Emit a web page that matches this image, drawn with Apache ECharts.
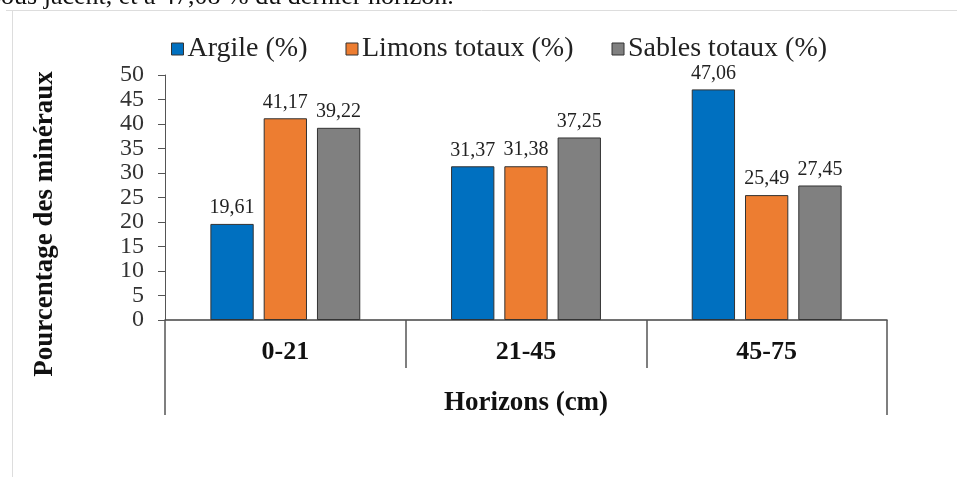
<!DOCTYPE html>
<html><head><meta charset="utf-8">
<script src="https://cdn.jsdelivr.net/npm/echarts@6/dist/echarts.min.js"></script>
<style>html,body{margin:0;padding:0;background:#fff}#c{width:957px;height:477px}</style>
</head><body><div id="c"></div>
<script>
const categories = ['0-21', '21-45', '45-75'];
const argile = [19.61, 31.37, 47.06];
const limons = [41.17, 31.38, 25.49];
const sables = [39.22, 37.25, 27.45];
const seriesNames = ['Argile (%)', 'Limons totaux (%)', 'Sables totaux (%)'];
const yTicks = [0, 5, 10, 15, 20, 25, 30, 35, 40, 45, 50];

const F = '"Liberation Serif","Times New Roman",serif';
const chart = echarts.init(document.getElementById('c'), null, {renderer: 'canvas'});
const lbl = {show: true, position: 'top', distance: 6, fontFamily: F, fontSize: 20, color: '#222',
  formatter: p => p.value.toFixed(2).replace('.', ',')};
function bar(name, data, color) {
  return {name, type: 'bar', data, barWidth: '18%', barGap: '23%',
    itemStyle: {color, borderColor: '#333', borderWidth: 1}, label: lbl};
}
chart.setOption({
  animation: false,
  textStyle: {fontFamily: F},
  legend: {left: 166, top: 30, itemWidth: 12, itemHeight: 12, itemGap: 38,
    icon: 'rect', textStyle: {fontFamily: F, fontSize: 28, color: '#222', padding: [0, 0, 0, -1]},
    itemStyle: {borderColor: '#333', borderWidth: 1}},
  grid: {left: 165, right: 70, top: 75, bottom: 157},
  xAxis: [{type: 'category', data: categories,
    axisLine: {lineStyle: {color: '#444', width: 1.5}},
    axisTick: {show: true, length: 48, interval: 0, lineStyle: {color: '#555', width: 1.5}},
    axisLabel: {fontFamily: F, fontSize: 26, fontWeight: 'bold', color: '#111', margin: 19},
    name: 'Horizons (cm)', nameLocation: 'middle', nameGap: 70,
    nameTextStyle: {fontFamily: F, fontSize: 27, fontWeight: 'bold', color: '#111'}},
   {type: 'category', data: [''], position: 'bottom',
    axisLine: {show: false},
    axisTick: {show: true, length: 95, lineStyle: {color: '#555', width: 1.5}},
    axisLabel: {show: false}}],
  yAxis: {type: 'value', min: yTicks[0], max: yTicks[yTicks.length - 1], interval: 5,
    splitLine: {show: false},
    axisLine: {show: true, lineStyle: {color: '#555', width: 1}},
    axisTick: {show: true, length: 7, lineStyle: {color: '#555'}},
    axisLabel: {fontFamily: F, fontSize: 24, color: '#333', margin: 21,
      showMinLabel: true, showMaxLabel: true, hideOverlap: false}},
  graphic: [
    {type: 'line', shape: {x1: 6, y1: 10.5, x2: 957, y2: 10.5}, style: {stroke: '#ddd', lineWidth: 1}},
    {type: 'line', shape: {x1: 12.5, y1: 10, x2: 12.5, y2: 477}, style: {stroke: '#ddd', lineWidth: 1}},
    {type: 'text', left: -9, top: -16, style: {text: 'sous jacent, et à 47,08 % du dernier horizon.',
      font: '26px "Liberation Serif", serif', fill: '#111'}},
    {type: 'text', x: 45, y: 224, rotation: Math.PI / 2, style: {text: 'Pourcentage des minéraux',
      font: 'bold 27px "Liberation Serif", serif', fill: '#111', textAlign: 'center', textVerticalAlign: 'middle'}}
  ],
  series: [bar(seriesNames[0], argile, '#0070C0'), bar(seriesNames[1], limons, '#ED7D31'), bar(seriesNames[2], sables, '#808080')]
});
</script></body></html>
